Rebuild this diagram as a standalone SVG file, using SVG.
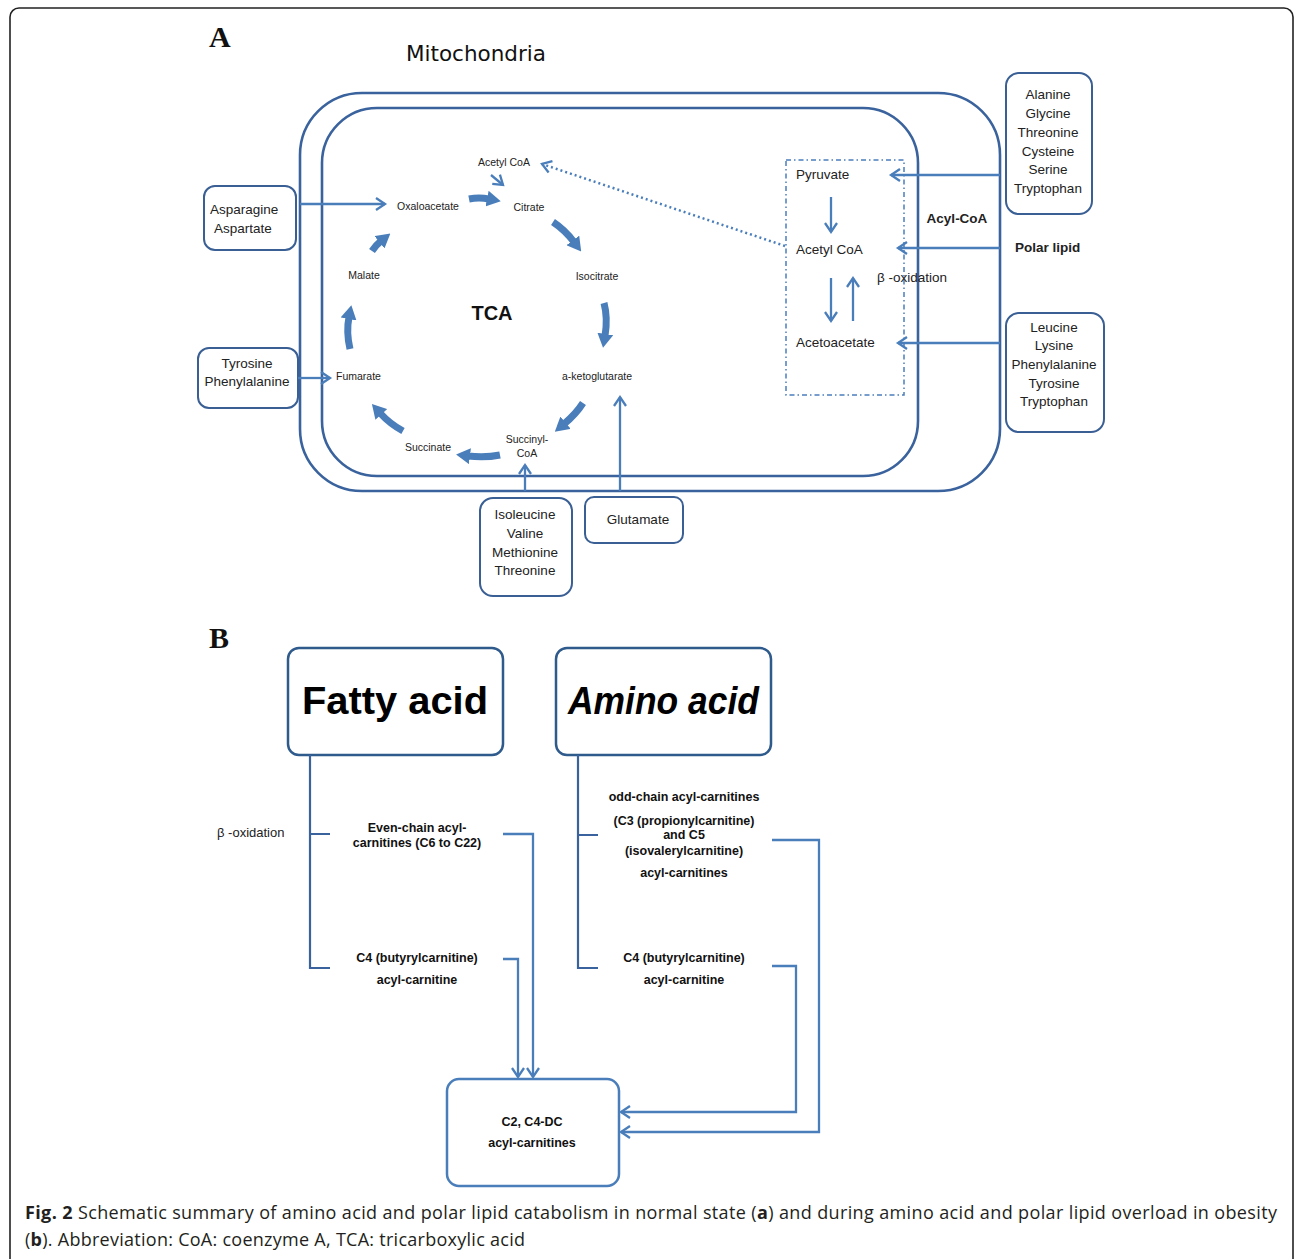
<svg xmlns="http://www.w3.org/2000/svg" width="1295" height="1259" viewBox="0 0 1295 1259">
<style>
.lbl{font-family:"Liberation Sans",Arial,sans-serif;fill:#222;}
.s{font-size:10.5px;}
.m{font-size:13.5px;}
.bb{font-weight:bold;}
.cs{font-family:"Liberation Sans",Arial,sans-serif;font-size:12.5px;font-weight:bold;fill:#111;}
.box{fill:#fff;stroke:#3a5f94;stroke-width:2;}
.mem{fill:none;stroke:#3a639e;stroke-width:2.6;}
.ln{fill:none;stroke:#4a7ebb;stroke-width:2.3;}
.thick{fill:none;stroke:#4a7ebb;stroke-width:7;}
.cap{font-family:"Open Sans","Liberation Sans",sans-serif;font-size:18px;fill:#231f20;}
</style>
<defs>
<marker id="ah" markerUnits="userSpaceOnUse" markerWidth="16" markerHeight="16" viewBox="0 0 16 16" refX="13" refY="8" orient="auto">
<path d="M4,2 L13,8 L4,14" fill="none" stroke="#4a7ebb" stroke-width="2.3"/>
</marker>
<marker id="th" markerUnits="userSpaceOnUse" markerWidth="14" markerHeight="16" viewBox="0 0 14 16" refX="2" refY="8" orient="auto">
<path d="M0,0 L14,8 L0,16 z" fill="#4a7ebb"/>
</marker>
</defs>
<rect x="0" y="0" width="1295" height="1259" fill="#fff"/>
<rect x="10" y="8" width="1283" height="1262" rx="9" fill="none" stroke="#222" stroke-width="1.6"/>

<g id="panel-labels">
<text x="209" y="47" font-family="Liberation Serif,Times New Roman,serif" font-size="30" font-weight="bold" fill="#111">A</text>
<text x="209" y="648" font-family="Liberation Serif,Times New Roman,serif" font-size="30" font-weight="bold" fill="#111">B</text>
<text x="406" y="61" font-family="DejaVu Sans,sans-serif" font-size="21.5" fill="#111">Mitochondria</text>
</g>

<g id="membranes">
<rect class="mem" x="300" y="93" width="700" height="398" rx="62"/>
<rect class="mem" x="322" y="108" width="596" height="368" rx="55"/>
<rect x="786" y="160" width="118" height="235" fill="none" stroke="#4a7ebb" stroke-width="1.5" stroke-dasharray="5 3 1.5 3"/>
</g>

<g id="tca-labels" class="lbl s">
<text x="504" y="166" text-anchor="middle">Acetyl CoA</text>
<text x="428" y="210" text-anchor="middle">Oxaloacetate</text>
<text x="529" y="211" text-anchor="middle">Citrate</text>
<text x="364" y="279" text-anchor="middle">Malate</text>
<text x="597" y="280" text-anchor="middle">Isocitrate</text>
<text x="336" y="380">Fumarate</text>
<text x="562" y="380">a-ketoglutarate</text>
<text x="428" y="451" text-anchor="middle">Succinate</text>
<text x="527" y="443" text-anchor="middle">Succinyl-</text>
<text x="527" y="457" text-anchor="middle">CoA</text>
<text x="492" y="320" text-anchor="middle" font-size="20" font-weight="bold" fill="#111">TCA</text>
</g>

<g id="pathway-labels" class="lbl m">
<text x="796" y="179">Pyruvate</text>
<text x="796" y="254">Acetyl CoA</text>
<text x="796" y="347">Acetoacetate</text>
<text x="877" y="282">β -oxidation</text>
<text x="957" y="223" text-anchor="middle" class="bb">Acyl-CoA</text>
<text x="1015" y="252" class="bb">Polar lipid</text>
</g>

<g id="node-asparagine">
<rect class="box" x="204" y="186" width="92" height="64" rx="11"/>
<text class="lbl m" x="210" y="214">Asparagine</text>
<text class="lbl m" x="214" y="233">Aspartate</text>
</g>
<g id="node-tyrosine">
<rect class="box" x="198" y="348" width="100" height="60" rx="11"/>
<text class="lbl m" x="247" y="368" text-anchor="middle">Tyrosine</text>
<text class="lbl m" x="247" y="386" text-anchor="middle">Phenylalanine</text>
</g>
<g id="node-alanine">
<rect class="box" x="1006" y="73" width="86" height="141" rx="13"/>
<g class="lbl m" text-anchor="middle">
<text x="1048" y="99">Alanine</text>
<text x="1048" y="118">Glycine</text>
<text x="1048" y="137">Threonine</text>
<text x="1048" y="156">Cysteine</text>
<text x="1048" y="174">Serine</text>
<text x="1048" y="193">Tryptophan</text>
</g>
</g>
<g id="node-leucine">
<rect class="box" x="1006" y="313" width="98" height="119" rx="13"/>
<g class="lbl m" text-anchor="middle">
<text x="1054" y="332">Leucine</text>
<text x="1054" y="350">Lysine</text>
<text x="1054" y="369">Phenylalanine</text>
<text x="1054" y="388">Tyrosine</text>
<text x="1054" y="406">Tryptophan</text>
</g>
</g>
<g id="node-isoleucine">
<rect class="box" x="480" y="498" width="92" height="98" rx="13"/>
<g class="lbl m" text-anchor="middle">
<text x="525" y="519">Isoleucine</text>
<text x="525" y="538">Valine</text>
<text x="525" y="557">Methionine</text>
<text x="525" y="575">Threonine</text>
</g>
</g>
<g id="node-glutamate">
<rect class="box" x="585" y="497" width="98" height="46" rx="9"/>
<text class="lbl m" x="638" y="524" text-anchor="middle">Glutamate</text>
</g>

<g id="connectors-a">
<path class="thick" d="M469,199 Q479,197 489,199" marker-end="url(#th)"/>
<path class="thick" d="M553,222 Q565,230 574,242" marker-end="url(#th)"/>
<path class="thick" d="M604,303 Q608,318 605,336" marker-end="url(#th)"/>
<path class="thick" d="M583,403 Q576,414 564,424" marker-end="url(#th)"/>
<path class="thick" d="M500,455 Q485,458 468,456" marker-end="url(#th)"/>
<path class="thick" d="M403,431 Q390,424 380,413" marker-end="url(#th)"/>
<path class="thick" d="M350,349 Q346,332 349,317" marker-end="url(#th)"/>
<path class="thick" d="M372,251 Q376,245 381,241" marker-end="url(#th)"/>
<path class="ln" d="M491,175 L503,185" marker-end="url(#ah)"/>
<path d="M785,246 L542,164" fill="none" stroke="#4a7ebb" stroke-width="2.5" stroke-dasharray="2 3" marker-end="url(#ah)"/>
<path class="ln" d="M300,204 L385,204" marker-end="url(#ah)"/>
<path class="ln" d="M298,378 L330,378" marker-end="url(#ah)"/>
<path class="ln" d="M1000,175 L891,175" marker-end="url(#ah)"/>
<path class="ln" d="M1000,248 L898,248" marker-end="url(#ah)"/>
<path class="ln" d="M1000,343 L898,343" marker-end="url(#ah)"/>
<path class="ln" d="M831,197 L831,232" marker-end="url(#ah)"/>
<path class="ln" d="M831,278 L831,321" marker-end="url(#ah)"/>
<path class="ln" d="M853,321 L853,278" marker-end="url(#ah)"/>
<path class="ln" d="M525,491 L525,465" marker-end="url(#ah)"/>
<path class="ln" d="M620,491 L620,397" marker-end="url(#ah)"/>
</g>

<g id="node-fatty-acid">
<rect x="288" y="648" width="215" height="107" rx="11" fill="#fff" stroke="#2e5a8c" stroke-width="2.5"/>
<text x="302" y="714" font-family="Liberation Sans,Arial,sans-serif" font-size="39" font-weight="bold" fill="#000" textLength="186" lengthAdjust="spacingAndGlyphs">Fatty acid</text>
</g>
<g id="node-amino-acid">
<rect x="556" y="648" width="215" height="107" rx="11" fill="#fff" stroke="#2e5a8c" stroke-width="2.5"/>
<text x="568" y="714" font-family="Liberation Sans,Arial,sans-serif" font-size="39" font-weight="bold" font-style="italic" fill="#000" textLength="191" lengthAdjust="spacingAndGlyphs">Amino acid</text>
</g>
<g id="node-c2">
<rect x="447" y="1079" width="172" height="107" rx="12" fill="#fff" stroke="#4a7ebb" stroke-width="2.5"/>
<text class="cs" x="532" y="1126" text-anchor="middle">C2, C4-DC</text>
<text class="cs" x="532" y="1147" text-anchor="middle">acyl-carnitines</text>
</g>

<g id="labels-b">
<text x="217" y="837" font-family="Liberation Sans,Arial,sans-serif" font-size="13" fill="#222">β -oxidation</text>
<g class="cs" text-anchor="middle">
<text x="417" y="832">Even-chain acyl-</text>
<text x="417" y="847">carnitines (C6 to C22)</text>
<text x="417" y="962">C4 (butyrylcarnitine)</text>
<text x="417" y="984">acyl-carnitine</text>
<text x="684" y="801">odd-chain acyl-carnitines</text>
<text x="684" y="825">(C3 (propionylcarnitine)</text>
<text x="684" y="839">and C5</text>
<text x="684" y="855">(isovalerylcarnitine)</text>
<text x="684" y="877">acyl-carnitines</text>
<text x="684" y="962">C4 (butyrylcarnitine)</text>
<text x="684" y="984">acyl-carnitine</text>
</g>
</g>

<g id="connectors-b">
<path d="M310,755 L310,968 L330,968 M310,834 L330,834" fill="none" stroke="#3a639e" stroke-width="2.2"/>
<path d="M578,755 L578,968 L598,968 M578,835 L598,835" fill="none" stroke="#3a639e" stroke-width="2.2"/>
<path class="ln" d="M503,834 L533,834 L533,1077" marker-end="url(#ah)"/>
<path class="ln" d="M503,959 L518,959 L518,1077" marker-end="url(#ah)"/>
<path class="ln" d="M772,840 L819,840 L819,1132 L621,1132" marker-end="url(#ah)"/>
<path class="ln" d="M772,966 L796,966 L796,1112 L621,1112" marker-end="url(#ah)"/>
</g>

<g id="caption">
<text class="cap" x="25" y="1219" textLength="1252" lengthAdjust="spacing"><tspan font-weight="bold">Fig. 2</tspan> Schematic summary of amino acid and polar lipid catabolism in normal state (<tspan font-weight="bold">a</tspan>) and during amino acid and polar lipid overload in obesity</text>
<text class="cap" x="25" y="1246" textLength="500" lengthAdjust="spacing">(<tspan font-weight="bold">b</tspan>). Abbreviation: CoA: coenzyme A, TCA: tricarboxylic acid</text>
</g>
</svg>
